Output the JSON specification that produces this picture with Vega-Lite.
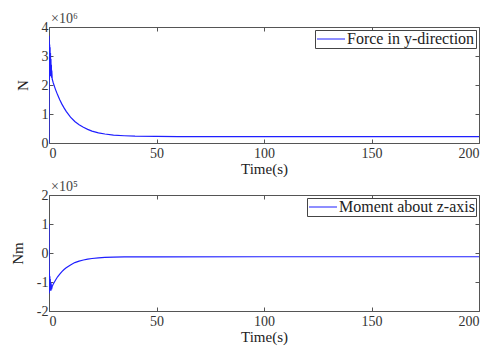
{
  "$schema": "https://vega.github.io/schema/vega-lite/v6.json",
  "background": "white",
  "padding": {"left": 9, "top": 11, "right": 5, "bottom": 5},
  "config": {
    "font": "Liberation Serif",
    "view": {"stroke": "#555555", "strokeWidth": 1},
    "axis": {
      "labelFont": "Liberation Serif",
      "titleFont": "Liberation Serif",
      "labelFontSize": 14,
      "titleFontSize": 15,
      "titleFontWeight": "normal",
      "labelColor": "#333333",
      "titleColor": "#222222",
      "grid": false,
      "domain": false,
      "tickColor": "#555555",
      "tickSize": -4,
      "labelPadding": 5
    },
    "legend": {
      "labelFont": "Liberation Serif",
      "labelFontSize": 16,
      "labelColor": "#222222",
      "symbolType": "M-1,0H3",
      "symbolSize": 196,
      "symbolStrokeWidth": 1,
      "symbolFillColor": "transparent",
      "strokeColor": "#444444",
      "fillColor": "white",
      "padding": 1,
      "offset": 3,
      "labelOffset": 15,
      "rowPadding": 0
    }
  },
  "datasets": {
    "force": [
      {"t": 0, "v": 0, "series": "Force in y-direction"},
      {"t": 0.05, "v": 3700000, "series": "Force in y-direction"},
      {"t": 0.1, "v": 2300000, "series": "Force in y-direction"},
      {"t": 0.15, "v": 3500000, "series": "Force in y-direction"},
      {"t": 0.2, "v": 2200000, "series": "Force in y-direction"},
      {"t": 0.3, "v": 3400000, "series": "Force in y-direction"},
      {"t": 0.4, "v": 2300000, "series": "Force in y-direction"},
      {"t": 0.5, "v": 3300000, "series": "Force in y-direction"},
      {"t": 0.6, "v": 2300000, "series": "Force in y-direction"},
      {"t": 0.7, "v": 3100000, "series": "Force in y-direction"},
      {"t": 0.8, "v": 2300000, "series": "Force in y-direction"},
      {"t": 0.9, "v": 2900000, "series": "Force in y-direction"},
      {"t": 1.0, "v": 2300000, "series": "Force in y-direction"},
      {"t": 1.1, "v": 2700000, "series": "Force in y-direction"},
      {"t": 1.2, "v": 2250000, "series": "Force in y-direction"},
      {"t": 1.3, "v": 2500000, "series": "Force in y-direction"},
      {"t": 1.5, "v": 2200000, "series": "Force in y-direction"},
      {"t": 2, "v": 2070000, "series": "Force in y-direction"},
      {"t": 3, "v": 1850000, "series": "Force in y-direction"},
      {"t": 4, "v": 1660000, "series": "Force in y-direction"},
      {"t": 5, "v": 1490000, "series": "Force in y-direction"},
      {"t": 6, "v": 1340000, "series": "Force in y-direction"},
      {"t": 7, "v": 1210000, "series": "Force in y-direction"},
      {"t": 8, "v": 1090000, "series": "Force in y-direction"},
      {"t": 10, "v": 890000, "series": "Force in y-direction"},
      {"t": 12, "v": 740000, "series": "Force in y-direction"},
      {"t": 14, "v": 630000, "series": "Force in y-direction"},
      {"t": 16, "v": 540000, "series": "Force in y-direction"},
      {"t": 18, "v": 470000, "series": "Force in y-direction"},
      {"t": 20, "v": 410000, "series": "Force in y-direction"},
      {"t": 23, "v": 350000, "series": "Force in y-direction"},
      {"t": 26, "v": 310000, "series": "Force in y-direction"},
      {"t": 30, "v": 270000, "series": "Force in y-direction"},
      {"t": 35, "v": 250000, "series": "Force in y-direction"},
      {"t": 40, "v": 235000, "series": "Force in y-direction"},
      {"t": 50, "v": 226000, "series": "Force in y-direction"},
      {"t": 60, "v": 222000, "series": "Force in y-direction"},
      {"t": 100, "v": 220000, "series": "Force in y-direction"},
      {"t": 200, "v": 220000, "series": "Force in y-direction"}
    ],
    "moment": [
      {"t": 0, "v": 0, "series": "Moment about z-axis"},
      {"t": 0.02, "v": 100000, "series": "Moment about z-axis"},
      {"t": 0.05, "v": -140000, "series": "Moment about z-axis"},
      {"t": 0.1, "v": -60000, "series": "Moment about z-axis"},
      {"t": 0.15, "v": -135000, "series": "Moment about z-axis"},
      {"t": 0.2, "v": -70000, "series": "Moment about z-axis"},
      {"t": 0.3, "v": -130000, "series": "Moment about z-axis"},
      {"t": 0.4, "v": -80000, "series": "Moment about z-axis"},
      {"t": 0.5, "v": -130000, "series": "Moment about z-axis"},
      {"t": 0.6, "v": -90000, "series": "Moment about z-axis"},
      {"t": 0.7, "v": -130000, "series": "Moment about z-axis"},
      {"t": 0.8, "v": -100000, "series": "Moment about z-axis"},
      {"t": 0.9, "v": -130000, "series": "Moment about z-axis"},
      {"t": 1.0, "v": -105000, "series": "Moment about z-axis"},
      {"t": 1.2, "v": -125000, "series": "Moment about z-axis"},
      {"t": 1.5, "v": -115000, "series": "Moment about z-axis"},
      {"t": 2, "v": -107000, "series": "Moment about z-axis"},
      {"t": 3, "v": -94000, "series": "Moment about z-axis"},
      {"t": 4, "v": -82000, "series": "Moment about z-axis"},
      {"t": 5, "v": -73000, "series": "Moment about z-axis"},
      {"t": 6, "v": -64000, "series": "Moment about z-axis"},
      {"t": 7, "v": -57000, "series": "Moment about z-axis"},
      {"t": 8, "v": -51000, "series": "Moment about z-axis"},
      {"t": 10, "v": -41000, "series": "Moment about z-axis"},
      {"t": 12, "v": -33000, "series": "Moment about z-axis"},
      {"t": 14, "v": -28000, "series": "Moment about z-axis"},
      {"t": 16, "v": -24000, "series": "Moment about z-axis"},
      {"t": 18, "v": -21000, "series": "Moment about z-axis"},
      {"t": 20, "v": -19000, "series": "Moment about z-axis"},
      {"t": 23, "v": -16700, "series": "Moment about z-axis"},
      {"t": 26, "v": -15400, "series": "Moment about z-axis"},
      {"t": 30, "v": -14300, "series": "Moment about z-axis"},
      {"t": 35, "v": -13700, "series": "Moment about z-axis"},
      {"t": 40, "v": -13300, "series": "Moment about z-axis"},
      {"t": 50, "v": -13100, "series": "Moment about z-axis"},
      {"t": 100, "v": -13000, "series": "Moment about z-axis"},
      {"t": 200, "v": -13000, "series": "Moment about z-axis"}
    ],
    "forceExp": [{"t": 0, "v": 4000000, "label": "×10⁶"}],
    "momentExp": [{"t": 0, "v": 200000, "label": "×10⁵"}]
  },
  "vconcat": [
    {
      "width": 430,
      "height": 116,
      "layer": [
        {
          "data": {"name": "force"},
          "mark": {"type": "line", "strokeWidth": 1.2, "clip": true},
          "encoding": {
            "x": {"field": "t", "type": "quantitative", "scale": {"domain": [0, 200], "nice": false},
                  "axis": {"title": "Time(s)", "values": [0, 50, 100, 150, 200], "titlePadding": 1, "labelPadding": 7}},
            "y": {"field": "v", "type": "quantitative", "scale": {"domain": [0, 4000000], "nice": false},
                  "axis": {"title": "N", "values": [0, 1000000, 2000000, 3000000, 4000000], "labelExpr": "datum.value / 1000000", "titlePadding": 11}},
            "color": {"field": "series", "type": "nominal", "scale": {"range": ["#1f1fff"]},
                      "legend": {"title": null, "orient": "top-right"}}
          }
        },
        {
          "data": {"name": "forceExp"},
          "mark": {"type": "text", "align": "left", "baseline": "bottom", "dx": 2, "dy": -1, "fontSize": 14, "color": "#444444", "font": "Liberation Serif"},
          "encoding": {
            "x": {"field": "t", "type": "quantitative", "axis": {"orient": "top", "labels": false, "title": null, "values": [0, 50, 100, 150, 200]}},
            "y": {"field": "v", "type": "quantitative", "axis": {"orient": "right", "labels": false, "title": null, "values": [0, 1000000, 2000000, 3000000, 4000000]}},
            "text": {"field": "label"}
          }
        }
      ],
      "resolve": {"axis": {"x": "independent", "y": "independent"}}
    },
    {
      "width": 430,
      "height": 116,
      "layer": [
        {
          "data": {"name": "moment"},
          "mark": {"type": "line", "strokeWidth": 1.2, "clip": true},
          "encoding": {
            "x": {"field": "t", "type": "quantitative", "scale": {"domain": [0, 200], "nice": false},
                  "axis": {"title": "Time(s)", "values": [0, 50, 100, 150, 200], "titlePadding": 1, "labelPadding": 7}},
            "y": {"field": "v", "type": "quantitative", "scale": {"domain": [-200000, 200000], "nice": false},
                  "axis": {"title": "Nm", "values": [-200000, -100000, 0, 100000, 200000], "labelExpr": "datum.value / 100000", "titlePadding": 11}},
            "color": {"field": "series", "type": "nominal", "scale": {"range": ["#1f1fff"]},
                      "legend": {"title": null, "orient": "top-right"}}
          }
        },
        {
          "data": {"name": "momentExp"},
          "mark": {"type": "text", "align": "left", "baseline": "bottom", "dx": 2, "dy": -1, "fontSize": 14, "color": "#444444", "font": "Liberation Serif"},
          "encoding": {
            "x": {"field": "t", "type": "quantitative", "axis": {"orient": "top", "labels": false, "title": null, "values": [0, 50, 100, 150, 200]}},
            "y": {"field": "v", "type": "quantitative", "axis": {"orient": "right", "labels": false, "title": null, "values": [-200000, -100000, 0, 100000, 200000]}},
            "text": {"field": "label"}
          }
        }
      ],
      "resolve": {"axis": {"x": "independent", "y": "independent"}}
    }
  ],
  "spacing": 2,
  "resolve": {"scale": {"color": "independent"}, "legend": {"color": "independent"}}
}
